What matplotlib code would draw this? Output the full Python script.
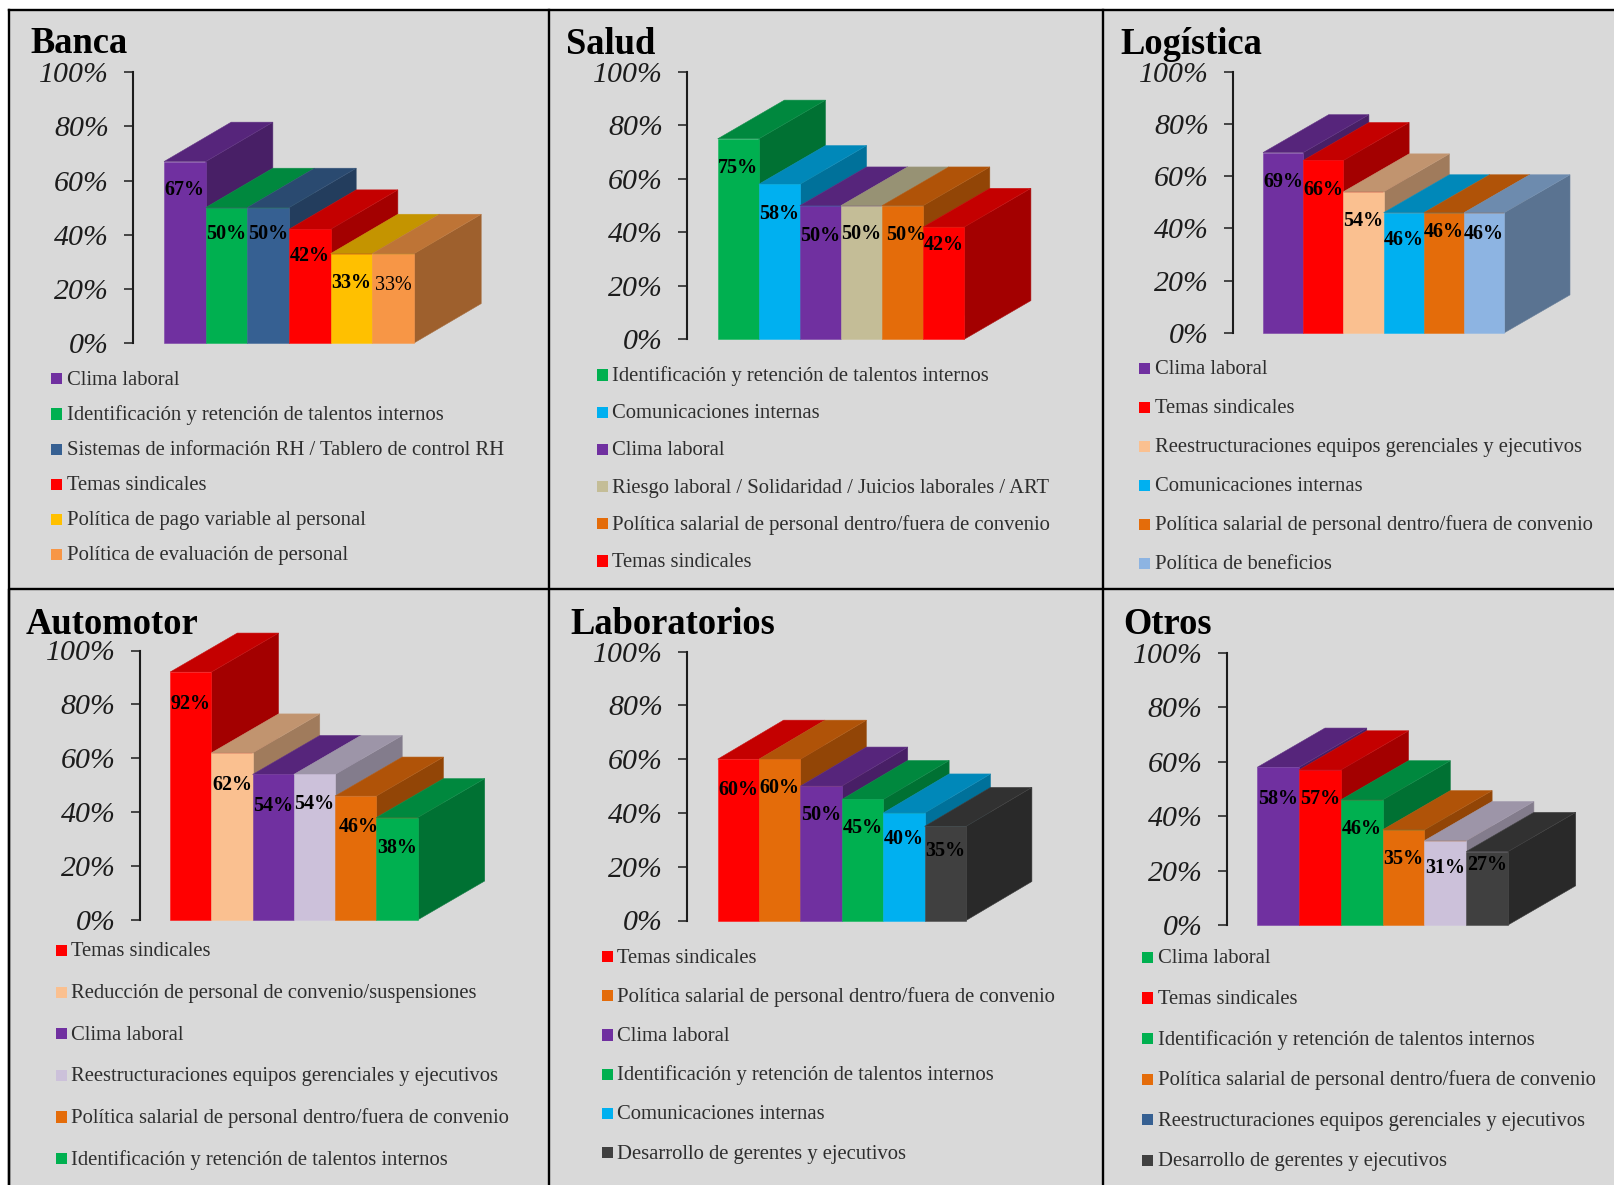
import matplotlib
matplotlib.use("Agg")
import matplotlib.pyplot as plt
from matplotlib.colors import to_rgb
from matplotlib.patches import Rectangle

PURPLE = "#7030A0"
GREEN = "#00B050"
BLUE = "#366092"
RED = "#FF0000"
YELLOW = "#FFC000"
LIGHT_ORANGE = "#F79646"
SKY = "#00B0F0"
TAN = "#C4BD97"
ORANGE = "#E46C0A"
PEACH = "#FAC090"
LIGHT_BLUE = "#8DB4E2"
LILAC = "#CCC1DA"
DARK = "#404040"

CLIMA = "Clima laboral"
TALENTOS = "Identificación y retención de talentos internos"
SINDICALES = "Temas sindicales"
SALARIAL = "Política salarial de personal dentro/fuera de convenio"
COMUNICACIONES = "Comunicaciones internas"
REESTRUCT = "Reestructuraciones equipos gerenciales y ejecutivos"
DESARROLLO = "Desarrollo de gerentes y ejecutivos"

banca_cats = [CLIMA, TALENTOS, "Sistemas de información RH / Tablero de control RH",
              SINDICALES, "Política de pago variable al personal", "Política de evaluación de personal"]
banca_vals = [67, 50, 50, 42, 33, 33]
banca_cols = [PURPLE, GREEN, BLUE, RED, YELLOW, LIGHT_ORANGE]

salud_cats = [TALENTOS, COMUNICACIONES, CLIMA,
              "Riesgo laboral / Solidaridad / Juicios laborales / ART", SALARIAL, SINDICALES]
salud_vals = [75, 58, 50, 50, 50, 42]
salud_cols = [GREEN, SKY, PURPLE, TAN, ORANGE, RED]

logistica_cats = [CLIMA, SINDICALES, REESTRUCT, COMUNICACIONES, SALARIAL, "Política de beneficios"]
logistica_vals = [69, 66, 54, 46, 46, 46]
logistica_cols = [PURPLE, RED, PEACH, SKY, ORANGE, LIGHT_BLUE]

automotor_cats = [SINDICALES, "Reducción de personal de convenio/suspensiones", CLIMA,
                  REESTRUCT, SALARIAL, TALENTOS]
automotor_vals = [92, 62, 54, 54, 46, 38]
automotor_cols = [RED, PEACH, PURPLE, LILAC, ORANGE, GREEN]

laboratorios_cats = [SINDICALES, SALARIAL, CLIMA, TALENTOS, COMUNICACIONES, DESARROLLO]
laboratorios_vals = [60, 60, 50, 45, 40, 35]
laboratorios_cols = [RED, ORANGE, PURPLE, GREEN, SKY, DARK]

otros_cats = [CLIMA, SINDICALES, TALENTOS, SALARIAL, REESTRUCT, DESARROLLO]
otros_vals = [58, 57, 46, 35, 31, 27]
otros_cols = [PURPLE, RED, GREEN, ORANGE, LILAC, DARK]
# the legend swatches of this panel differ from its bars in the source
otros_legend_cols = [GREEN, RED, GREEN, ORANGE, BLUE, DARK]

W, H = 1614, 1185
BG = "#D9D9D9"
SERIF = "Liberation Serif"

# pixel layout: axis x, y of 100%, y of 0%, bars left, bars right, depth right, depth height,
# title x, title baseline, swatch x, text x, first legend row, legend step
panels = [
    ("Banca", banca_cats, banca_vals, banca_cols, banca_cols,
     (133.3, 72.2, 343, 164, 414, 481.2, 39.4, 30, 53, 51, 66.6, 378.9, 35.1),
     [9.7, 8.9, 8.9, 9.0, 10.0, 10.7]),
    ("Salud", salud_cats, salud_vals, salud_cols, salud_cols,
     (687.1, 72.0, 339.3, 717.7, 964.2, 1030.9, 38.7, 566.5, 53.6, 597, 612, 375, 37.2),
     [10.1, 10.3, 10.3, 9.6, 9.9, 5.9]),
    ("Logística", logistica_cats, logistica_vals, logistica_cols, logistica_cols,
     (1233.3, 71.6, 332.8, 1263, 1504.3, 1570, 37.9, 1120.7, 53.6, 1139, 1155.3, 368.2, 39),
     [10.2, 10.2, 10.2, 9.5, 6.6, 7.2]),
    ("Automotor", automotor_cats, automotor_vals, automotor_cols, automotor_cols,
     (139.6, 650.5, 920, 170.1, 417.5, 484.7, 39, 25.5, 634, 56.1, 71.2, 950.5, 41.6),
     [11.0, 10.8, 10.8, 10.1, 10.7, 10.2]),
    ("Laboratorios", laboratorios_cats, laboratorios_vals, laboratorios_cols, laboratorios_cols,
     (687.1, 651.6, 920.5, 717.7, 966, 1031.9, 39, 570, 634, 601.9, 617.3, 956.6, 39.2),
     [10.5, 9.8, 9.9, 9.8, 8.8, 8.4]),
    ("Otros", otros_cats, otros_vals, otros_cols, otros_legend_cols,
     (1226.7, 653, 925, 1257.3, 1508, 1575.7, 39.2, 1123, 634, 1142, 1158, 957.4, 40.6),
     [10.7, 9.7, 9.8, 9.8, 9.1, 4.2]),
]

# nudges and lighter labels seen in the source
label_dx = {("Salud", 4): 0.1, ("Automotor", 4): 0.08}
light_labels = {("Banca", 5)}


def shade(color, factor):
    return tuple(c * factor for c in to_rgb(color))


def edge(color):
    return tuple(c + (1 - c) * 0.08 for c in to_rgb(color))


fig = plt.figure(figsize=(W / 100, H / 100), dpi=100, facecolor="white")

bg = fig.add_axes([0, 0, 1, 1], zorder=0)
bg.set_xlim(0, W)
bg.set_ylim(H, 0)
bg.axis("off")
bg.add_patch(Rectangle((9, 10), W, H, facecolor=BG, edgecolor="none"))
bg.plot([9, W], [10, 10], color="black", lw=1.7)
bg.plot([W, 9, 9], [589, 589, H], color="black", lw=1.7)
bg.plot([9, 9], [10, H], color="black", lw=1.7)
bg.plot([549, 549], [10, H], color="black", lw=1.7)
bg.plot([1103, 1103], [10, H], color="black", lw=1.7)

for name, cats, vals, cols, leg_cols, lay, lab_off in panels:
    (ax_x, y100, y0, left, right, d_right, d_h,
     title_x, title_y, sw_x, txt_x, leg_y, leg_step) = lay

    ax = fig.add_axes([ax_x / W, 1 - y0 / H, (d_right - ax_x) / W, (y0 - y100) / H], zorder=2)
    ax.patch.set_visible(False)
    bw = (right - left) / len(vals)
    ax.set_xlim(-(left - ax_x) / bw, (d_right - left) / bw)
    ax.set_ylim(0, 100)
    dx = (d_right - right) / bw
    dy = d_h / (y0 - y100) * 100

    # left to right, each box hides the side of the one before it
    for i, (v, c) in enumerate(zip(vals, cols)):
        side = shade(c, 0.64)
        top = shade(c, 0.77)
        ax.fill([i + 1, i + 1 + dx, i + 1 + dx, i + 1], [0, dy, v + dy, v],
                facecolor=side, edgecolor=edge(side), lw=0.4, clip_on=False)
        ax.fill([i, i + dx, i + 1 + dx, i + 1], [v, v + dy, v + dy, v],
                facecolor=top, edgecolor=edge(top), lw=0.4, clip_on=False)
        ax.bar(i, v, width=1, align="edge", color=c, edgecolor=edge(c), lw=0.4, clip_on=False)

    for i, (v, off) in enumerate(zip(vals, lab_off)):
        light = (name, i) in light_labels
        ax.text(i + 0.5 + label_dx.get((name, i), 0), v - off, f"{v}%",
                ha="center", va="center_baseline", family=SERIF, color="black",
                fontsize=14.5 if light else 14.4, fontweight="normal" if light else "bold")

    for s in ["top", "right", "bottom"]:
        ax.spines[s].set_visible(False)
    ax.spines["left"].set_linewidth(1.5)
    ax.spines["left"].set_color("#1c1c1c")
    ax.set_xticks([])
    ax.set_yticks(range(0, 101, 20))
    ax.set_yticklabels([f"{t}%" for t in range(0, 101, 20)], family=SERIF, style="italic",
                       fontsize=21.5, color="#1c1c1c")
    ax.tick_params(axis="y", length=6.4, width=1.1, color="#1c1c1c", pad=11)

    bg.text(title_x, title_y, name, family=SERIF, fontweight="bold", fontsize=26.3,
            color="black", va="baseline", ha="left")

    for i, (cat, c) in enumerate(zip(cats, leg_cols)):
        y = leg_y + i * leg_step
        bg.add_patch(Rectangle((sw_x, y - 5.6), 11, 11.2, facecolor=c, edgecolor="none"))
        bg.text(txt_x, y + 6, cat, family=SERIF, fontsize=14.9, color="#2e2e2e",
                va="baseline", ha="left")

fig.savefig("out.png", dpi=100)
